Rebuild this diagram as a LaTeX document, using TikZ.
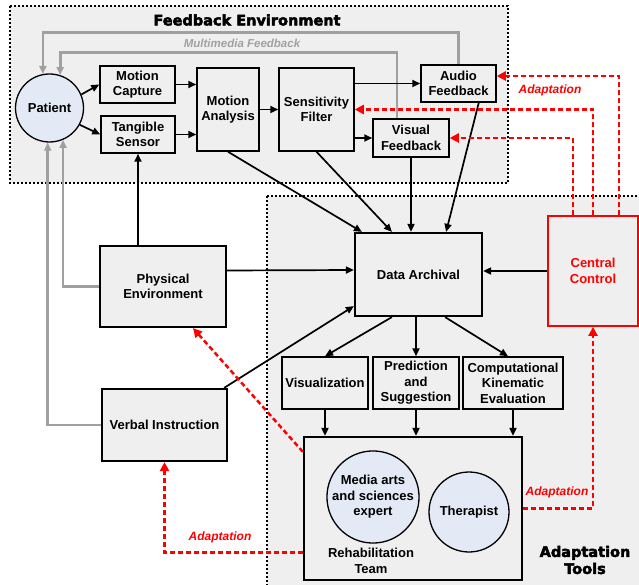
\documentclass[tikz,border=0pt]{standalone}
\usepackage{fontspec}
\setmainfont{Liberation Sans}
\newfontfamily\heavyfont[BoldFeatures={FakeBold=3}]{DejaVu Sans}
\usetikzlibrary{arrows.meta}
\definecolor{panel}{HTML}{EFEFEF}
\definecolor{bubble}{HTML}{E3EAF5}
\definecolor{fbgray}{HTML}{A0A0A0}

\begin{document}
\begin{tikzpicture}[x=1pt,y=-1pt,
  >={Triangle[length=8pt,width=7pt]},
  every node/.style={font=\fontsize{13}{15.5}\selectfont\bfseries,align=center},
  box/.style={draw,line width=1.5pt,fill=panel,inner sep=0pt},
  bigbox/.style={box,line width=2.2pt},
  bubble/.style={circle,draw,line width=1.3pt,fill=bubble,inner sep=0pt},
  region/.style={fill=panel,line width=2pt,dash pattern=on 2pt off 2pt},
  flow/.style={->,line width=1.7pt},
  fb/.style={->,fbgray,line width=2.6pt},
  adapt/.style={->,red,line width=2.5pt,dash pattern=on 5pt off 3pt,>={Triangle[length=9pt,width=9pt]}},
  tag/.style={font=\fontsize{12}{14}\selectfont\bfseries\itshape},
  heading/.style={font=\fontsize{14.5}{17}\selectfont\heavyfont\bfseries}]
\useasboundingbox (0,0) rectangle (639,585);

\draw[region] (10,6) rectangle (508,183);
\draw[region] (267,196) rectangle (660,600);
\node[heading] (fbenv) at (247,20) {Feedback Environment};
\node[heading] (adtools) at (585,560) {Adaptation\\Tools};

\node[bubble,minimum size=68pt] (pat) at (49.5,108) {Patient};
\node[box,minimum width=75pt,minimum height=37pt] (mcap) at (137.5,84.5) {Motion\\Capture};
\node[box,minimum width=74pt,minimum height=37pt] (tang) at (138,134.5) {Tangible\\Sensor};
\node[box,minimum width=62pt,minimum height=83pt] (mana) at (228,109.5) {Motion\\Analysis};
\node[box,minimum width=75pt,minimum height=83pt] (sfil) at (316.5,109.5) {Sensitivity\\Filter};
\node[box,minimum width=75pt,minimum height=37pt] (audio) at (458.5,83.5) {Audio\\Feedback};
\node[box,minimum width=76pt,minimum height=38pt] (visual) at (411,138) {Visual\\Feedback};

\node[bigbox,minimum width=127pt,minimum height=83pt] (darch) at (418.5,274.5) {Data Archival};
\node[box,draw=red,text=red,line width=1.8pt,minimum width=90pt,minimum height=110pt] (cctrl) at (593,271) {Central\\Control};
\node[bigbox,minimum width=126pt,minimum height=81pt] (phys) at (163,286.5) {Physical\\Environment};
\node[bigbox,minimum width=125pt,minimum height=72pt] (verbal) at (164.5,425) {Verbal Instruction};
\node[box,minimum width=86pt,minimum height=52pt] (visz) at (325,383) {Visualization};
\node[box,minimum width=86pt,minimum height=52pt] (pred) at (416,383) {Prediction\\and\\Suggestion};
\node[box,minimum width=100pt,minimum height=52pt] (ckin) at (513,383) {Computational\\Kinematic\\Evaluation};

\node[bigbox,minimum width=218pt,minimum height=143pt] (rteam) at (413,508.5) {};
\node[bubble,minimum size=88pt] (media) at (373,497) {Media arts\\and sciences\\expert};
\node[bubble,minimum size=80pt] (ther) at (469,512) {Therapist};
\node (rlabel) at (371,561) {Rehabilitation\\Team};

% multimedia feedback loops
\draw[fb] (audio.north) -- ++(0,-32) -| (pat.101);
\draw[fb] ([xshift=-14pt]visual.north) -- ++(0,-66) -| (pat.72);
\node[tag,text=fbgray,font=\fontsize{11.5}{13}\selectfont\bfseries\itshape] (mmfb) at (242,43) {Multimedia Feedback};
\draw[fb] (phys.west) -| (pat.-67);
\draw[fb] (verbal.west) -| (pat.-93);

\draw[flow] (pat.23) -- (mcap.west);
\draw[flow] (pat.-29) -- (tang.west);
\draw[flow] (mcap.east) -- (mcap.east -| mana.west);
\draw[flow] (tang.east) -- (tang.east -| mana.west);
\draw[flow] (mana.east) -- (sfil.west);
\draw[flow] (audio.west -| sfil.east) -- (audio.west);
\draw[flow] (visual.west -| sfil.east) -- (visual.west);
\draw[flow] (mana.south) -- ([xshift=8pt]darch.north west);
\draw[flow] (sfil.south) -- ([xshift=38pt]darch.north west);
\draw[flow] (visual.south) -- (visual.south |- darch.north);
\draw[flow] ([xshift=-18pt]audio.south east) -- ([xshift=-37pt]darch.north east);

\draw[flow] (cctrl.west) -- (cctrl.west -| darch.east);
\draw[flow] ([yshift=16pt]phys.east) -- ([yshift=4.5pt]darch.west);
\draw[flow] (phys.north -| tang.south) -- (tang.south);
\draw[flow] ([xshift=-4pt]verbal.north east) -- ([yshift=11pt]darch.south west);
\draw[flow] ([xshift=38pt]darch.south west) -- (visz.north);
\draw[flow] (pred.north |- darch.south) -- (pred.north);
\draw[flow] ([xshift=-38pt]darch.south east) -- ([xshift=-5pt]ckin.north);
\draw[flow] (visz.south) -- (visz.south |- rteam.north);
\draw[flow] (pred.south) -- (pred.south |- rteam.north);
\draw[flow] (ckin.south) -- (ckin.south |- rteam.north);

% adaptation paths
\draw[adapt] ([xshift=26pt]cctrl.north) |- ([yshift=7.5pt]audio.east);
\draw[adapt] (cctrl.north) |- (sfil.east);
\draw[adapt] ([xshift=-20pt]cctrl.north) |- (visual.east);
\node[tag,text=red] (tadapt1) at (550,90) {Adaptation};
\draw[adapt] (rteam.east) -| (cctrl.south);
\node[tag,text=red] (tadapt2) at (557,492) {Adaptation};
\draw[adapt] ([yshift=-44pt]rteam.west) -| (verbal.south);
\node[tag,text=red] (tadapt3) at (220,537) {Adaptation};
\draw[adapt] ([yshift=-16pt]rteam.north west) -- ([xshift=30pt]phys.south);

\end{tikzpicture}
\end{document}
